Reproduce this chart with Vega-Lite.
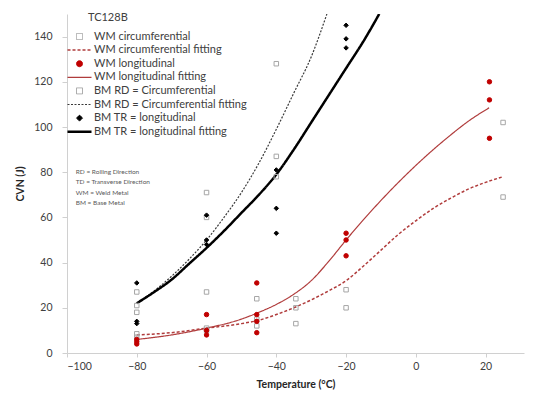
{
  "$schema": "https://vega.github.io/schema/vega-lite/v6.json",
  "width": 457,
  "height": 339,
  "autosize": {"type": "none"},
  "padding": {"left": 67, "top": 14, "right": 12, "bottom": 43},
  "config": {
    "font": "Lato",
    "view": {"stroke": null},
    "axis": {
      "grid": false,
      "domainColor": "#d0d0d0",
      "tickColor": "#d0d0d0",
      "labelColor": "#404040",
      "labelFontSize": 10.5,
      "titleFontSize": 10.5,
      "titleFontWeight": "bold",
      "titleColor": "#262626"
    },
    "legend": {
      "orient": "none",
      "legendX": 7,
      "legendY": -2,
      "padding": 0,
      "symbolSize": 36,
      "labelOffset": 9,
      "rowPadding": 1.6,
      "labelFontSize": 11,
      "labelColor": "#404040",
      "titleFontSize": 11,
      "titleFontWeight": "normal",
      "titleColor": "#404040",
      "titlePadding": 8,
      "labelLimit": 300
    }
  },
  "datasets": {
    "cvn": [
      {"series": "WM circumferential", "T": -80, "CVN": 7},
      {"series": "WM circumferential", "T": -80, "CVN": 8.5},
      {"series": "WM circumferential", "T": -60, "CVN": 10},
      {"series": "WM circumferential", "T": -60, "CVN": 11},
      {"series": "WM circumferential", "T": -45.6, "CVN": 24},
      {"series": "WM circumferential", "T": -45.6, "CVN": 15},
      {"series": "WM circumferential", "T": -45.6, "CVN": 12},
      {"series": "WM circumferential", "T": -34.4, "CVN": 24},
      {"series": "WM circumferential", "T": -34.4, "CVN": 20},
      {"series": "WM circumferential", "T": -34.4, "CVN": 13},
      {"series": "WM circumferential", "T": -20, "CVN": 28},
      {"series": "WM circumferential", "T": -20, "CVN": 20},
      {"series": "WM circumferential", "T": 25, "CVN": 102},
      {"series": "WM circumferential", "T": 25, "CVN": 69},
      {"series": "WM longitudinal", "T": -80, "CVN": 6},
      {"series": "WM longitudinal", "T": -80, "CVN": 5},
      {"series": "WM longitudinal", "T": -80, "CVN": 4},
      {"series": "WM longitudinal", "T": -60, "CVN": 17},
      {"series": "WM longitudinal", "T": -60, "CVN": 10},
      {"series": "WM longitudinal", "T": -60, "CVN": 8},
      {"series": "WM longitudinal", "T": -45.6, "CVN": 31},
      {"series": "WM longitudinal", "T": -45.6, "CVN": 17},
      {"series": "WM longitudinal", "T": -45.6, "CVN": 14},
      {"series": "WM longitudinal", "T": -45.6, "CVN": 9},
      {"series": "WM longitudinal", "T": -20, "CVN": 53},
      {"series": "WM longitudinal", "T": -20, "CVN": 50},
      {"series": "WM longitudinal", "T": -20, "CVN": 43},
      {"series": "WM longitudinal", "T": 21.1, "CVN": 120},
      {"series": "WM longitudinal", "T": 21.1, "CVN": 112},
      {"series": "WM longitudinal", "T": 21.1, "CVN": 95},
      {"series": "BM RD = Circumferential", "T": -80, "CVN": 27},
      {"series": "BM RD = Circumferential", "T": -80, "CVN": 21},
      {"series": "BM RD = Circumferential", "T": -80, "CVN": 18},
      {"series": "BM RD = Circumferential", "T": -60, "CVN": 71},
      {"series": "BM RD = Circumferential", "T": -60, "CVN": 60},
      {"series": "BM RD = Circumferential", "T": -60, "CVN": 27},
      {"series": "BM RD = Circumferential", "T": -40, "CVN": 128},
      {"series": "BM RD = Circumferential", "T": -40, "CVN": 87},
      {"series": "BM RD = Circumferential", "T": -40, "CVN": 78},
      {"series": "BM TR = longitudinal", "T": -80, "CVN": 31},
      {"series": "BM TR = longitudinal", "T": -80, "CVN": 14},
      {"series": "BM TR = longitudinal", "T": -80, "CVN": 13},
      {"series": "BM TR = longitudinal", "T": -60, "CVN": 61},
      {"series": "BM TR = longitudinal", "T": -60, "CVN": 50},
      {"series": "BM TR = longitudinal", "T": -60, "CVN": 48},
      {"series": "BM TR = longitudinal", "T": -40, "CVN": 81},
      {"series": "BM TR = longitudinal", "T": -40, "CVN": 64},
      {"series": "BM TR = longitudinal", "T": -40, "CVN": 53},
      {"series": "BM TR = longitudinal", "T": -20, "CVN": 145},
      {"series": "BM TR = longitudinal", "T": -20, "CVN": 139},
      {"series": "BM TR = longitudinal", "T": -20, "CVN": 135},
      {"series": "WM circumferential fitting", "T": -80, "CVN": 8},
      {"series": "WM circumferential fitting", "T": -70, "CVN": 9},
      {"series": "WM circumferential fitting", "T": -60, "CVN": 11},
      {"series": "WM circumferential fitting", "T": -50, "CVN": 13},
      {"series": "WM circumferential fitting", "T": -45, "CVN": 14.5},
      {"series": "WM circumferential fitting", "T": -40, "CVN": 17},
      {"series": "WM circumferential fitting", "T": -35, "CVN": 20},
      {"series": "WM circumferential fitting", "T": -30, "CVN": 23.5},
      {"series": "WM circumferential fitting", "T": -25, "CVN": 27.5},
      {"series": "WM circumferential fitting", "T": -20, "CVN": 32},
      {"series": "WM circumferential fitting", "T": -15, "CVN": 38.5},
      {"series": "WM circumferential fitting", "T": -10, "CVN": 45.5},
      {"series": "WM circumferential fitting", "T": -5, "CVN": 52.5},
      {"series": "WM circumferential fitting", "T": 0, "CVN": 58.5},
      {"series": "WM circumferential fitting", "T": 5, "CVN": 64},
      {"series": "WM circumferential fitting", "T": 10, "CVN": 68.5},
      {"series": "WM circumferential fitting", "T": 15, "CVN": 72.5},
      {"series": "WM circumferential fitting", "T": 20, "CVN": 75.5},
      {"series": "WM circumferential fitting", "T": 25, "CVN": 78},
      {"series": "WM longitudinal fitting", "T": -80, "CVN": 6},
      {"series": "WM longitudinal fitting", "T": -70, "CVN": 8},
      {"series": "WM longitudinal fitting", "T": -60, "CVN": 11},
      {"series": "WM longitudinal fitting", "T": -50, "CVN": 15},
      {"series": "WM longitudinal fitting", "T": -45, "CVN": 18},
      {"series": "WM longitudinal fitting", "T": -40, "CVN": 21.5},
      {"series": "WM longitudinal fitting", "T": -35, "CVN": 26},
      {"series": "WM longitudinal fitting", "T": -30, "CVN": 32},
      {"series": "WM longitudinal fitting", "T": -25, "CVN": 40.5},
      {"series": "WM longitudinal fitting", "T": -20, "CVN": 50},
      {"series": "WM longitudinal fitting", "T": -15, "CVN": 59},
      {"series": "WM longitudinal fitting", "T": -10, "CVN": 67.5},
      {"series": "WM longitudinal fitting", "T": -5, "CVN": 75.5},
      {"series": "WM longitudinal fitting", "T": 0, "CVN": 83},
      {"series": "WM longitudinal fitting", "T": 5, "CVN": 90},
      {"series": "WM longitudinal fitting", "T": 10, "CVN": 96.5},
      {"series": "WM longitudinal fitting", "T": 15, "CVN": 102.5},
      {"series": "WM longitudinal fitting", "T": 21, "CVN": 108.5},
      {"series": "BM RD = Circumferential fitting", "T": -80, "CVN": 22},
      {"series": "BM RD = Circumferential fitting", "T": -75, "CVN": 27.5},
      {"series": "BM RD = Circumferential fitting", "T": -70, "CVN": 34},
      {"series": "BM RD = Circumferential fitting", "T": -65, "CVN": 41.5},
      {"series": "BM RD = Circumferential fitting", "T": -60, "CVN": 50},
      {"series": "BM RD = Circumferential fitting", "T": -55, "CVN": 60},
      {"series": "BM RD = Circumferential fitting", "T": -50, "CVN": 71},
      {"series": "BM RD = Circumferential fitting", "T": -45, "CVN": 84},
      {"series": "BM RD = Circumferential fitting", "T": -40, "CVN": 99},
      {"series": "BM RD = Circumferential fitting", "T": -35, "CVN": 115},
      {"series": "BM RD = Circumferential fitting", "T": -30, "CVN": 131},
      {"series": "BM RD = Circumferential fitting", "T": -25.5, "CVN": 150},
      {"series": "BM TR = longitudinal fitting", "T": -80, "CVN": 22},
      {"series": "BM TR = longitudinal fitting", "T": -75, "CVN": 27},
      {"series": "BM TR = longitudinal fitting", "T": -70, "CVN": 32.5},
      {"series": "BM TR = longitudinal fitting", "T": -65, "CVN": 39.5},
      {"series": "BM TR = longitudinal fitting", "T": -60, "CVN": 46.5},
      {"series": "BM TR = longitudinal fitting", "T": -55, "CVN": 54},
      {"series": "BM TR = longitudinal fitting", "T": -50, "CVN": 62},
      {"series": "BM TR = longitudinal fitting", "T": -45, "CVN": 70},
      {"series": "BM TR = longitudinal fitting", "T": -40, "CVN": 79},
      {"series": "BM TR = longitudinal fitting", "T": -35, "CVN": 90},
      {"series": "BM TR = longitudinal fitting", "T": -30, "CVN": 102},
      {"series": "BM TR = longitudinal fitting", "T": -25, "CVN": 114},
      {"series": "BM TR = longitudinal fitting", "T": -20, "CVN": 126},
      {"series": "BM TR = longitudinal fitting", "T": -15, "CVN": 138},
      {"series": "BM TR = longitudinal fitting", "T": -10.5, "CVN": 150}
    ],
    "notes": [
      {"note": "RD = Rolling Direction|TD = Transverse Direction|WM = Weld Metal|BM = Base Metal"}
    ]
  },
  "layer": [
    {
      "data": {"name": "cvn"},
      "transform": [{"filter": "indexof(datum.series, 'fitting') >= 0"}],
      "mark": {"type": "line", "interpolate": "monotone", "clip": true},
      "encoding": {
        "x": {
          "field": "T",
          "type": "quantitative",
          "scale": {"domain": [-100, 31], "nice": false, "zero": false},
          "axis": {"title": "Temperature (°C)", "values": [-100, -80, -60, -40, -20, 0, 20], "tickSize": 4, "labelPadding": 4, "titlePadding": 8}
        },
        "y": {
          "field": "CVN",
          "type": "quantitative",
          "scale": {"domain": [0, 150], "nice": false},
          "axis": {"title": "CVN (J)", "values": [0, 20, 40, 60, 80, 100, 120, 140], "tickSize": 5, "labelPadding": 10, "titlePadding": 8}
        },
        "stroke": {
          "field": "series", "type": "nominal", "title": "TC128B",
          "scale": {
            "domain": ["WM circumferential", "WM circumferential fitting", "WM longitudinal", "WM longitudinal fitting", "BM RD = Circumferential", "BM RD = Circumferential fitting", "BM TR = longitudinal", "BM TR = longitudinal fitting"],
            "range": ["#a6a6a6", "#b03c3c", "#c00000", "#b03c3c", "#a6a6a6", "#3a3a3a", "#000000", "#000000"]
          },
          "legend": {"encode": {"title": {"update": {"dx": {"value": 14}}}}}
        },
        "strokeDash": {
          "field": "series", "type": "nominal", "title": "TC128B",
          "scale": {
            "domain": ["WM circumferential", "WM circumferential fitting", "WM longitudinal", "WM longitudinal fitting", "BM RD = Circumferential", "BM RD = Circumferential fitting", "BM TR = longitudinal", "BM TR = longitudinal fitting"],
            "range": [[1, 0], [3, 2], [1, 0], [1, 0], [1, 0], [2, 1.5], [1, 0], [1, 0]]
          }
        },
        "strokeWidth": {
          "field": "series", "type": "nominal", "title": "TC128B",
          "scale": {
            "type": "ordinal",
            "domain": ["WM circumferential", "WM circumferential fitting", "WM longitudinal", "WM longitudinal fitting", "BM RD = Circumferential", "BM RD = Circumferential fitting", "BM TR = longitudinal", "BM TR = longitudinal fitting"],
            "range": [1, 1.5, 1, 1.2, 1, 1.2, 1, 2.5]
          }
        }
      }
    },
    {
      "data": {"name": "cvn"},
      "transform": [{"filter": "indexof(datum.series, 'fitting') < 0"}],
      "mark": {"type": "point", "opacity": 1, "size": 20, "strokeWidth": 1},
      "encoding": {
        "x": {"field": "T", "type": "quantitative"},
        "y": {"field": "CVN", "type": "quantitative"},
        "shape": {
          "field": "series", "type": "nominal", "title": "TC128B",
          "scale": {
            "domain": ["WM circumferential", "WM circumferential fitting", "WM longitudinal", "WM longitudinal fitting", "BM RD = Circumferential", "BM RD = Circumferential fitting", "BM TR = longitudinal", "BM TR = longitudinal fitting"],
            "range": ["square", "M-4,0H4", "circle", "M-4,0H4", "square", "M-4,0H4", "diamond", "M-4,0H4"]
          }
        },
        "fill": {
          "field": "series", "type": "nominal", "title": "TC128B",
          "scale": {
            "domain": ["WM circumferential", "WM circumferential fitting", "WM longitudinal", "WM longitudinal fitting", "BM RD = Circumferential", "BM RD = Circumferential fitting", "BM TR = longitudinal", "BM TR = longitudinal fitting"],
            "range": ["transparent", "transparent", "#c00000", "transparent", "transparent", "transparent", "#000000", "transparent"]
          }
        },
        "stroke": {
          "field": "series", "type": "nominal", "title": "TC128B",
          "scale": {
            "domain": ["WM circumferential", "WM circumferential fitting", "WM longitudinal", "WM longitudinal fitting", "BM RD = Circumferential", "BM RD = Circumferential fitting", "BM TR = longitudinal", "BM TR = longitudinal fitting"],
            "range": ["#a6a6a6", "#b03c3c", "#c00000", "#b03c3c", "#a6a6a6", "#3a3a3a", "#000000", "#000000"]
          }
        }
      }
    },
    {
      "data": {"name": "notes"},
      "mark": {"type": "text", "align": "left", "baseline": "top", "fontSize": 6.5, "lineHeight": 10.4, "lineBreak": "|", "color": "#595959", "font": "Lato"},
      "encoding": {
        "x": {"datum": -97.5},
        "y": {"datum": 81.5},
        "text": {"field": "note", "type": "nominal"}
      }
    }
  ]
}
